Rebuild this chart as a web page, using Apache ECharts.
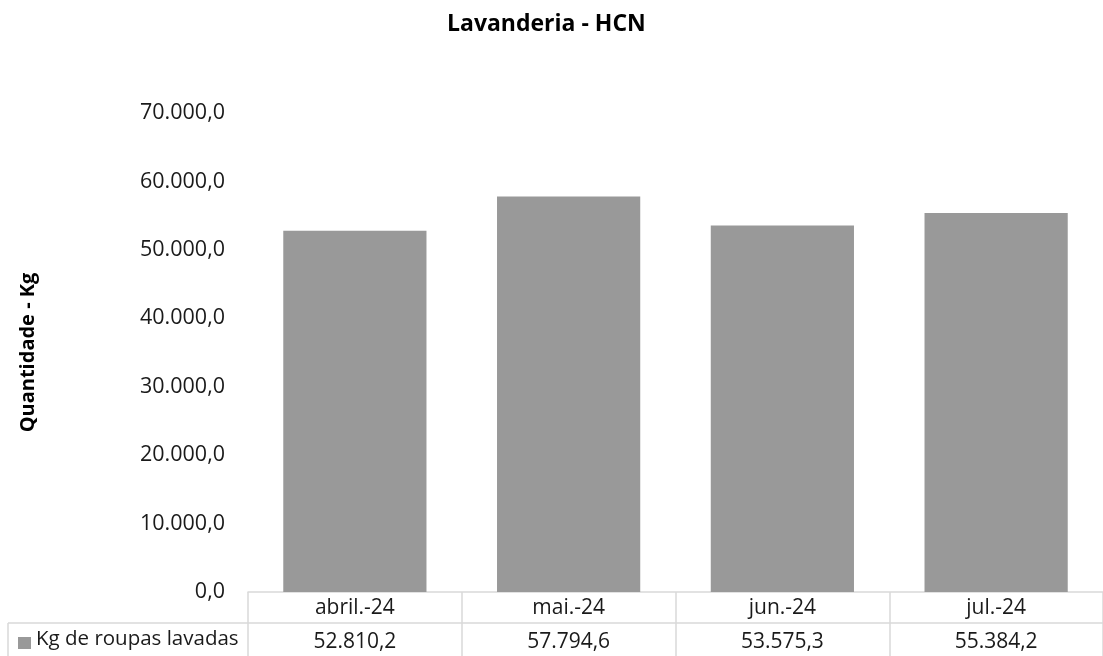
<!DOCTYPE html>
<html>
<head>
<meta charset="utf-8">
<script src="https://cdn.jsdelivr.net/npm/echarts@6/dist/echarts.min.js"></script>
<style>
html,body{margin:0;padding:0;background:#fff;}
#main{width:1103px;height:656px;}
</style>
</head>
<body>
<div id="main"></div>
<script>
const titleText = 'Lavanderia - HCN';
const yAxisName = 'Quantidade - Kg';
const seriesName = 'Kg de roupas lavadas';
const categories = ['abril.-24', 'mai.-24', 'jun.-24', 'jul.-24'];
const values = [52810.2, 57794.6, 53575.3, 55384.2];
const yMin = 0, yMax = 70000, yStep = 10000;

function fmt(v) {
  const fixed = Math.abs(v).toFixed(1);
  let [ip, dp] = fixed.split('.');
  ip = ip.replace(/\B(?=(\d{3})+(?!\d))/g, '.');
  return (v < 0 ? '-' : '') + ip + ',' + dp;
}

const FONT = 'Open Sans';
const TXT = '#1a1a1a';
const LINE = '#d9d9d9';
const BAR = '#999999';

const chart = echarts.init(document.getElementById('main'));
const option = {
  animation: false,
  backgroundColor: '#ffffff',
  textStyle: { fontFamily: FONT },
  title: {
    text: titleText,
    left: 442,
    top: 8,
    textStyle: { fontFamily: FONT, fontSize: 23, fontWeight: 'bold', color: '#000' }
  },
  grid: { left: 248, right: 0, top: 113, bottom: 64, containLabel: false },
  xAxis: {
    type: 'category',
    data: categories,
    boundaryGap: true,
    axisLine: { show: true, lineStyle: { color: LINE, width: 1.5 } },
    axisTick: { show: true, interval: 0, length: 70, lineStyle: { color: LINE, width: 1.5 } },
    axisLabel: {
      interval: 0,
      margin: 0,
      formatter: function (v, i) {
        return '{c|' + v + '}\n{v|' + fmt(values[i]) + '}';
      },
      rich: {
        c: { fontFamily: FONT, fontSize: 21, color: TXT, lineHeight: 32, align: 'center' },
        v: { fontFamily: FONT, fontSize: 21, color: TXT, lineHeight: 36, align: 'center' }
      }
    },
    splitLine: { show: false }
  },
  yAxis: {
    type: 'value',
    min: yMin,
    max: yMax,
    interval: yStep,
    name: yAxisName,
    nameLocation: 'middle',
    nameGap: 210,
    nameRotate: 90,
    nameTextStyle: { fontFamily: FONT, fontSize: 20, fontWeight: 'bold', color: '#000' },
    axisLine: { show: false },
    axisTick: { show: false },
    splitLine: { show: false },
    axisLabel: {
      margin: 23,
      fontFamily: FONT,
      fontSize: 21.5,
      color: TXT,
      formatter: function (v) { return fmt(v); }
    }
  },
  series: [{
    name: seriesName,
    type: 'bar',
    data: values,
    barWidth: '67%',
    itemStyle: { color: BAR }
  }]
};
chart.setOption(option);

// data-table decorations derived from the axis pixel positions
const yAxisPix = chart.convertToPixel({ yAxisIndex: 0 }, 0);
const rowSep = yAxisPix + 31;
const xEnd = 1103;
chart.setOption({
  graphic: [
    { type: 'line', shape: { x1: 8, y1: rowSep, x2: xEnd, y2: rowSep }, style: { stroke: LINE, lineWidth: 1.5 }, silent: true },
    { type: 'line', shape: { x1: 8, y1: rowSep, x2: 8, y2: 660 }, style: { stroke: LINE, lineWidth: 1.5 }, silent: true },
    { type: 'rect', shape: { x: 18, y: rowSep + 14, width: 13, height: 12 }, style: { fill: BAR }, silent: true },
    { type: 'text', left: 36, top: rowSep + 6, style: { text: seriesName, font: '20.5px "' + FONT + '"', fill: TXT }, silent: true }
  ]
});
</script>
</body>
</html>
